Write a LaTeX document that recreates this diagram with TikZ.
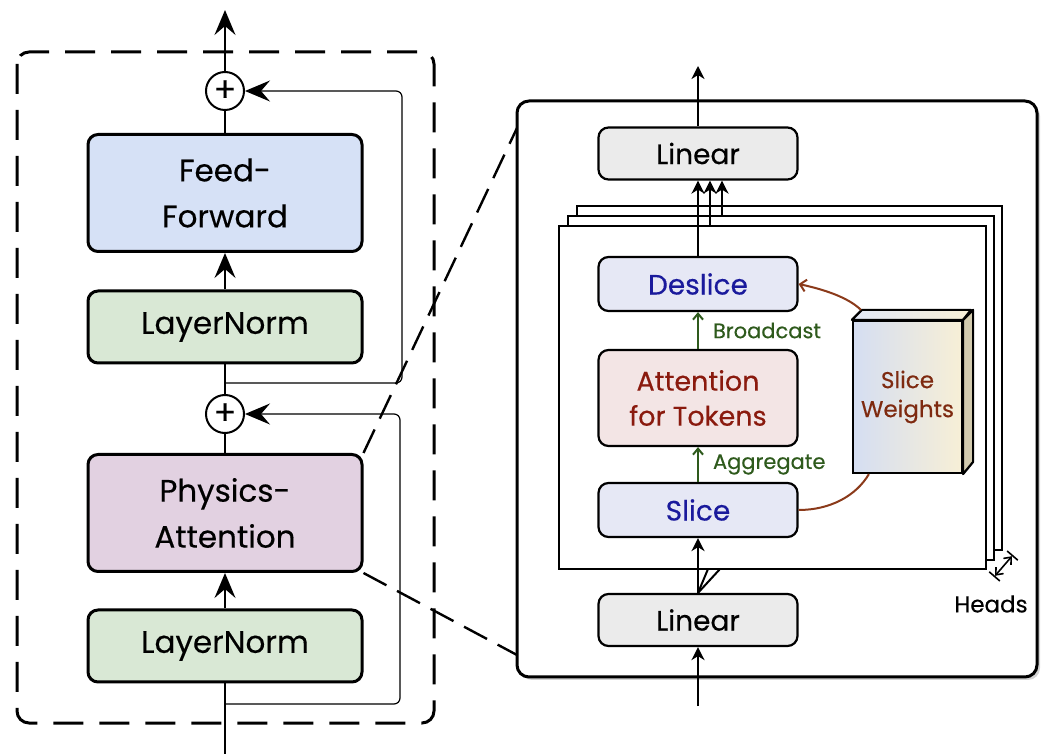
\documentclass[tikz,border=0pt]{standalone}
\usepackage{fontspec}
\setmainfont{Poppins}[FakeBold=0.35]
\usetikzlibrary{arrows.meta,positioning,shadows,calc}

\definecolor{ffblue}{HTML}{D6E1F6}
\definecolor{lngreen}{HTML}{D9E8D5}
\definecolor{pamauve}{HTML}{E2D1E1}
\definecolor{lingrey}{HTML}{EBEBEB}
\definecolor{slicefill}{HTML}{E6E8F5}
\definecolor{slicetext}{HTML}{1A1A9C}
\definecolor{attfill}{HTML}{F3E5E5}
\definecolor{atttext}{HTML}{8A1A0E}
\definecolor{swtext}{HTML}{7E2A10}
\definecolor{swblue}{HTML}{D5DEF2}
\definecolor{swgrey}{HTML}{E8E8E6}
\definecolor{swcream}{HTML}{F7EFD6}
\definecolor{swside}{HTML}{D3CBAE}
\definecolor{flowgreen}{HTML}{2E5A1C}
\definecolor{weightbrown}{HTML}{8B3A1A}

\tikzset{
  bigblock/.style={draw, line width=1.5pt, rounded corners=5pt, minimum width=137pt,
    align=center, font=\fontsize{15.5}{23}\selectfont},
  smallblock/.style={draw, line width=1.1pt, rounded corners=5pt, minimum width=99.5pt,
    minimum height=26pt, align=center, font=\fontsize{14}{17.5}\selectfont},
  addnode/.style={draw, circle, line width=1pt, minimum size=19pt, inner sep=0pt,
    font=\fontsize{17}{17}\selectfont},
  headbox/.style={draw, fill=white, line width=1pt, inner sep=0pt},
  swface/.style={draw, line width=1.1pt, minimum width=54.5pt, minimum height=76pt,
    left color=swblue, middle color=swgrey, right color=swcream, text=swtext,
    align=center, font=\fontsize{11.5}{14.5}\selectfont},
  mainline/.style={line width=0.9pt},
  bigarrow/.style={mainline, -{Stealth[length=12.5pt,width=10.5pt,inset=4.5pt]}},
  skipline/.style={line width=0.6pt, rounded corners=3pt,
    -{Stealth[length=12.5pt,width=10.5pt,inset=4.5pt]}},
  arr/.style={line width=1pt, -{Stealth[length=6.5pt,width=6.5pt,inset=2pt]}},
  flowarrow/.style={line width=1pt, draw=flowgreen, -{Straight Barb[length=3pt,width=5pt]}},
  flowlabel/.style={text=flowgreen, font=\fontsize{10.5}{12}\selectfont, inner sep=1pt},
  weightline/.style={line width=1pt, draw=weightbrown},
  blockframe/.style={line width=1.5pt, dash pattern=on 15pt off 8pt, rounded corners=6pt},
  zoomline/.style={line width=1.2pt, dash pattern=on 13pt off 6pt},
}

\begin{document}
\begin{tikzpicture}[x=0.5pt,y=-0.5pt]
\useasboundingbox (0,0) rectangle (1062,754);

% transformer block
\draw[blockframe] (17,52) rectangle (434,723);

\node[bigblock, fill=lngreen, minimum height=36pt] (ln1) at (225,646) {LayerNorm};
\node[bigblock, fill=pamauve, minimum height=58.5pt] (pa) at (225,513) {Physics-\\Attention};
\node[addnode] (add1) at (225,414) {+};
\node[bigblock, fill=lngreen, minimum height=36pt] (ln2) at (225,327) {LayerNorm};
\node[bigblock, fill=ffblue, minimum height=58.5pt] (ff) at (225,193) {Feed-\\Forward};
\node[addnode] (add2) at (225,91) {+};

\coordinate (blockin) at (225,754);
\coordinate (blockout) at (225,10);
\coordinate (skip1) at (225,704);
\coordinate (skip2) at (225,383);

\draw[mainline] (blockin) -- (ln1);
\draw[bigarrow] (ln1) -- (pa);
\draw[mainline] (pa) -- (add1);
\draw[mainline] (add1) -- (ln2);
\draw[bigarrow] (ln2) -- (ff);
\draw[mainline] (ff) -- (add2);
\draw[bigarrow] (add2) -- (blockout);
\draw[skipline] (skip1) -| (400,414) -- (add1);
\draw[skipline] (skip2) -| (402,91) -- (add2);

% zoom lines
\coordinate (zoomtop) at (517,128);
\coordinate (zoombot) at (517,655);
\draw[zoomline] (pa.north east) -- (zoomtop);
\draw[zoomline] (pa.south east) -- (zoombot);

% physics-attention detail
\path[draw, fill=white, line width=1.5pt, rounded corners=6pt,
  drop shadow={opacity=0.35, shadow xshift=1.5pt, shadow yshift=-1.5pt}]
  (517,101) rectangle (1037,677);

\coordinate (h2) at (710,226);
\coordinate (h3) at (722,216);
\node[headbox, minimum width=212.5pt, minimum height=172pt] (head3) at (789.5,378) {};
\node[headbox, minimum width=213pt, minimum height=172pt] (head2) at (781,388) {};
\node[headbox, minimum width=213.5pt, minimum height=171.5pt] (head1) at (772.5,397.5) {};

\node[smallblock, fill=lingrey] (lintop) at (698,153.5) {Linear};
\node[smallblock, fill=slicefill, text=slicetext, minimum height=27pt] (deslice) at (698,284) {Deslice};
\node[smallblock, fill=attfill, text=atttext, minimum height=48pt,
  font=\fontsize{13.5}{17.5}\selectfont] (att) at (698,398) {Attention\\for Tokens};
\node[smallblock, fill=slicefill, text=slicetext, minimum height=27pt] (slice) at (698,510) {Slice};
\node[smallblock, fill=lingrey] (linbot) at (698,620) {Linear};

\coordinate (rin) at (698,706);
\coordinate (rout) at (698,66);
\coordinate (fan2) at (708,569);
\coordinate (fan3) at (720,569);

\draw[arr] (rin) -- (linbot);
\draw[arr] (linbot) -- (slice);
\draw[line width=1pt] (linbot.north) -- (fan2);
\draw[line width=1pt] (linbot.north) -- (fan3);
\draw[flowarrow] (slice) -- node[flowlabel, right=6pt] {Aggregate} (att);
\draw[flowarrow] (att) -- node[flowlabel, right=6pt] {Broadcast} (deslice);
\draw[arr] (deslice) -- (lintop);
\draw[arr] (h2) -- (h2 |- lintop.south);
\draw[arr] (h3) -- (h3 |- lintop.south);
\draw[arr] (lintop) -- (rout);

% slice weights
\node[swface] (sw) at (907.5,397) {Slice\\Weights};
\draw[line width=1.1pt, line join=round, left color=swblue!70!white, right color=swcream]
  (sw.north west) -- ++(10,-10) -- ++(109,0) -- (sw.north east) -- cycle;
\draw[line width=1.1pt, line join=round, fill=swside]
  (sw.north east) -- ++(10,-10) -- ++(0,152) -- (sw.south east) -- cycle;

\coordinate (swtl) at ($(sw.north west)+(9,-10)$);
\coordinate (swbl) at ($(sw.south west)+(17,0)$);
\draw[weightline, -{Straight Barb[length=3pt,width=6pt]}]
  (swtl) .. controls (848,297) and (822,289) .. (deslice.east);
\draw[weightline] (slice.east) .. controls (830,510) and (856,496) .. (swbl);

% heads
\coordinate (heada) at (994,577);
\coordinate (headb) at (1013,555);
\draw[line width=0.8pt, {Bar[width=7pt].Straight Barb[length=3pt,width=5pt]}-{Straight Barb[length=3pt,width=5pt].Bar[width=7pt]}] (heada) -- (headb);
\node[font=\fontsize{11.5}{13}\selectfont] (headstxt) at (991,604) {Heads};

\end{tikzpicture}
\end{document}
